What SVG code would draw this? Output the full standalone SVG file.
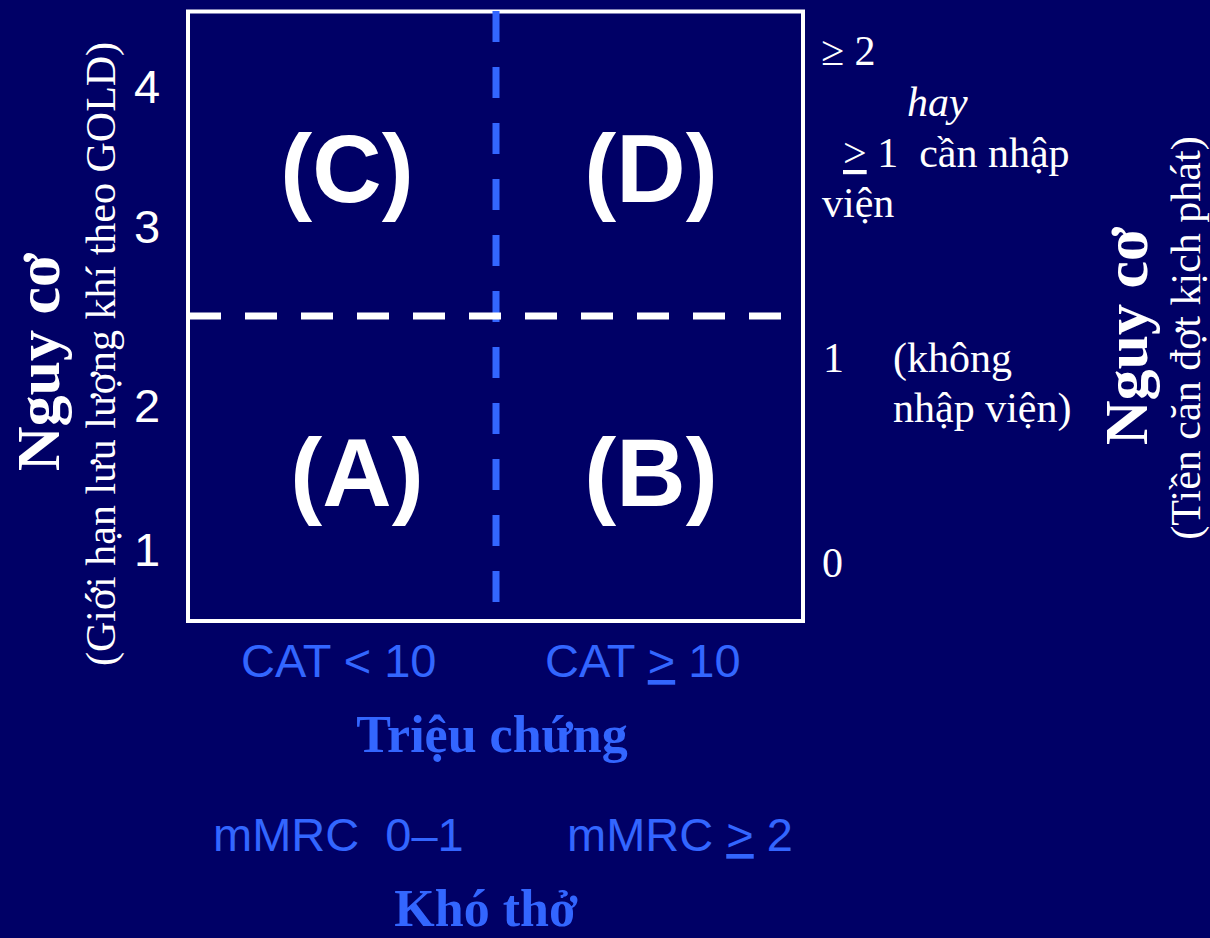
<svg xmlns="http://www.w3.org/2000/svg" width="1210" height="938" viewBox="0 0 1210 938">
  <style>
    .quad { font-family: "Liberation Sans", Arial, sans-serif; font-weight: bold; font-size: 96px; fill: #FFFFFF; text-anchor: middle; }
    .tick { font-family: "Liberation Sans", Arial, sans-serif; font-size: 47px; fill: #FFFFFF; }
    .rlab { font-family: "Liberation Serif", "Times New Roman", serif; font-size: 42px; fill: #FFFFFF; }
    .axtitle { font-family: "Liberation Serif", "Times New Roman", serif; font-weight: bold; font-size: 62px; fill: #FFFFFF; text-anchor: middle; }
    .axsub { font-family: "Liberation Serif", "Times New Roman", serif; font-size: 42px; fill: #FFFFFF; text-anchor: middle; }
    .xlab { font-family: "Liberation Sans", Arial, sans-serif; font-size: 47px; fill: #3366FF; }
    .xtitle { font-family: "Liberation Serif", "Times New Roman", serif; font-weight: bold; font-size: 52px; fill: #3366FF; text-anchor: middle; }
  </style>

  <!-- background -->
  <rect x="0" y="0" width="1210" height="938" fill="#000066"/>

  <!-- outer frame of the 2x2 grid -->
  <g id="frame">
    <rect x="188" y="11.5" width="615" height="609.5" fill="none" stroke="#FFFFFF" stroke-width="4"/>
  </g>

  <!-- dividers between the four groups -->
  <g id="connectors">
    <line x1="496" y1="11" x2="496" y2="603" stroke="#3366FF" stroke-width="7" stroke-dasharray="31 25"/>
    <line x1="189" y1="316" x2="781" y2="316" stroke="#FFFFFF" stroke-width="7" stroke-dasharray="32 24"/>
  </g>

  <!-- quadrants -->
  <g id="group-C"><text class="quad" x="347" y="202">(C)</text></g>
  <g id="group-D"><text class="quad" x="651" y="202">(D)</text></g>
  <g id="group-A"><text class="quad" x="357" y="506">(A)</text></g>
  <g id="group-B"><text class="quad" x="651" y="506">(B)</text></g>

  <!-- left scale: GOLD grades -->
  <g id="gold-scale">
    <text class="tick" x="134" y="103">4</text>
    <text class="tick" x="134" y="243">3</text>
    <text class="tick" x="134" y="422">2</text>
    <text class="tick" x="134" y="566">1</text>
  </g>

  <!-- left axis title -->
  <g id="left-axis-title">
    <text class="axtitle" transform="translate(59,362) rotate(-90)">Nguy cơ</text>
    <text class="axsub" transform="translate(115,354) rotate(-90)">(Giới hạn lưu lượng khí theo GOLD)</text>
  </g>

  <!-- right scale: exacerbation history -->
  <g id="exacerbation-scale">
    <text class="rlab" x="821" y="65">≥ 2</text>
    <text class="rlab" x="907" y="116" font-style="italic">hay</text>
    <text class="rlab" x="843" y="167" xml:space="preserve"><tspan text-decoration="underline">&gt;</tspan> 1  cần nhập</text>
    <text class="rlab" x="822" y="217">viện</text>
    <text class="rlab" x="823" y="372">1</text>
    <text class="rlab" x="893" y="372">(không</text>
    <text class="rlab" x="893" y="422">nhập viện)</text>
    <text class="rlab" x="822" y="577">0</text>
  </g>

  <!-- right axis title -->
  <g id="right-axis-title">
    <text class="axtitle" transform="translate(1147,336) rotate(-90)">Nguy cơ</text>
    <text class="axsub" transform="translate(1200,338) rotate(-90)">(Tiền căn đợt kịch phát)</text>
  </g>

  <!-- bottom scales -->
  <g id="symptom-scale">
    <text class="xlab" x="241" y="677">CAT &lt; 10</text>
    <text class="xlab" x="545" y="677">CAT <tspan text-decoration="underline">&gt;</tspan> 10</text>
    <text class="xtitle" x="492" y="752">Triệu chứng</text>
  </g>
  <g id="dyspnea-scale">
    <text class="xlab" x="213" y="851" xml:space="preserve">mMRC  0–1</text>
    <text class="xlab" x="567" y="851">mMRC <tspan text-decoration="underline">&gt;</tspan> 2</text>
    <text class="xtitle" x="486" y="926">Khó thở</text>
  </g>
</svg>
